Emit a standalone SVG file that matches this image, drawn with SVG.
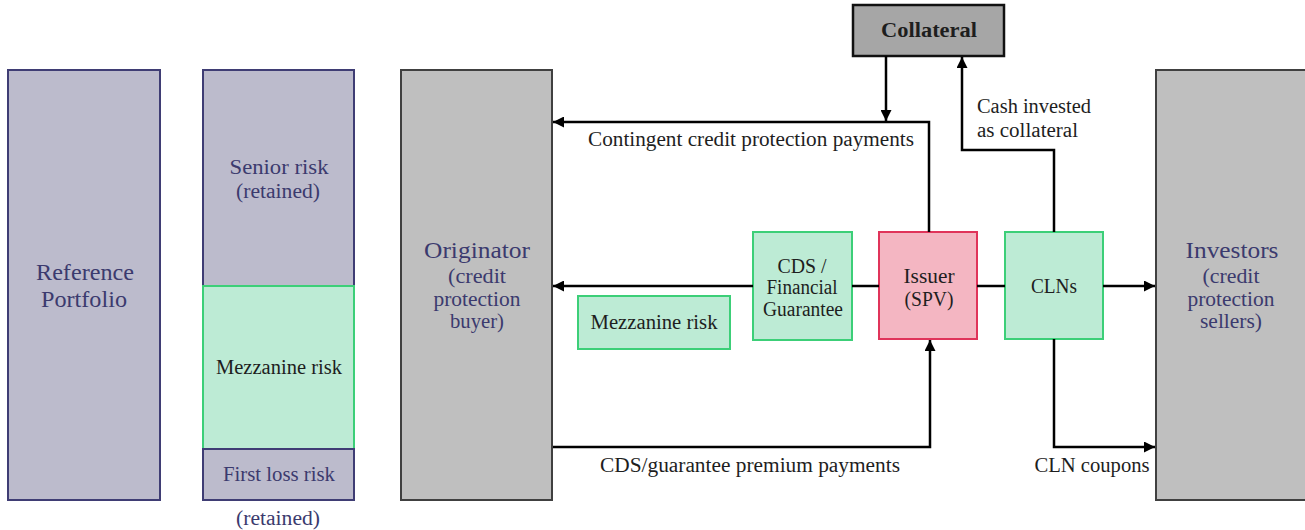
<svg xmlns="http://www.w3.org/2000/svg" width="1305" height="530" viewBox="0 0 1305 530">
<style>
text{font-family:"Liberation Serif","Times New Roman",serif;text-anchor:middle}
.navy{fill:#3b3a6e}
.blk{fill:#1e1e1e}
.tr{fill:#bcbbcc;stroke:#3f3d74;stroke-width:2}
.mz{fill:#bdebd5;stroke:#3ccf78;stroke-width:2}
.gr{fill:#bfbfbf;stroke:#404040;stroke-width:2}
.conn{fill:none;stroke:#000;stroke-width:2.5}
.t20{font-size:23.5px}
.t16{font-size:20px}
.t15{font-size:20px}
</style>
<defs>
<marker id="ah" viewBox="0 0 10 10" refX="10" refY="5" markerWidth="4.4" markerHeight="4.4" orient="auto" markerUnits="strokeWidth">
<path d="M0,0 L10,5 L0,10 z" fill="#000"/>
</marker>
</defs>
<g id="reference-portfolio">
<rect class="tr" x="8" y="70" width="152" height="430"/>
<text class="navy t20" x="85" y="280" textLength="98" lengthAdjust="spacingAndGlyphs">Reference</text>
<text class="navy t20" x="84" y="307" textLength="86" lengthAdjust="spacingAndGlyphs">Portfolio</text>
</g>
<g id="senior-risk">
<rect class="tr" x="203" y="70" width="151" height="216"/>
<text class="navy t16" x="279" y="174" textLength="99" lengthAdjust="spacingAndGlyphs">Senior risk</text>
<text class="navy t16" x="278" y="198" textLength="84" lengthAdjust="spacingAndGlyphs">(retained)</text>
</g>
<g id="mezzanine-tranche">
<rect class="mz" x="203" y="286" width="151" height="163"/>
<text class="blk t16" x="279" y="374" textLength="126" lengthAdjust="spacingAndGlyphs">Mezzanine risk</text>
</g>
<g id="first-loss">
<rect class="tr" x="203" y="449" width="151" height="51"/>
<text class="navy t16" x="279" y="481" textLength="112" lengthAdjust="spacingAndGlyphs">First loss risk</text>
<text class="navy t16" x="278" y="525" textLength="84" lengthAdjust="spacingAndGlyphs">(retained)</text>
</g>
<g id="originator">
<rect class="gr" x="401" y="70" width="151" height="430"/>
<text class="navy t20" x="477" y="258" textLength="106" lengthAdjust="spacingAndGlyphs">Originator</text>
<text class="navy t16" x="477" y="283" textLength="58" lengthAdjust="spacingAndGlyphs">(credit</text>
<text class="navy t16" x="477" y="306" textLength="87" lengthAdjust="spacingAndGlyphs">protection</text>
<text class="navy t16" x="477" y="328" textLength="54" lengthAdjust="spacingAndGlyphs">buyer)</text>
</g>
<g id="collateral">
<rect x="853" y="5" width="151" height="51" fill="#a6a6a6" stroke="#111" stroke-width="2.5"/>
<text class="blk" x="929" y="37" font-size="20" font-weight="bold" textLength="96" lengthAdjust="spacingAndGlyphs">Collateral</text>
</g>
<g id="mezzanine-risk">
<rect class="mz" x="578" y="296" width="152" height="53"/>
<text class="blk t16" x="654" y="329" textLength="127" lengthAdjust="spacingAndGlyphs">Mezzanine risk</text>
</g>
<g id="cds">
<rect class="mz" x="753" y="232" width="99" height="108"/>
<text class="blk t16" x="802" y="273" textLength="49" lengthAdjust="spacingAndGlyphs">CDS /</text>
<text class="blk t16" x="802" y="294" textLength="71" lengthAdjust="spacingAndGlyphs">Financial</text>
<text class="blk t16" x="803" y="316" textLength="80" lengthAdjust="spacingAndGlyphs">Guarantee</text>
</g>
<g id="issuer">
<rect x="879" y="232" width="98" height="107" fill="#f4b6c2" stroke="#e0345a" stroke-width="2"/>
<text class="blk t16" x="929" y="283" textLength="51" lengthAdjust="spacingAndGlyphs">Issuer</text>
<text class="blk t16" x="929" y="306" textLength="49" lengthAdjust="spacingAndGlyphs">(SPV)</text>
</g>
<g id="clns">
<rect class="mz" x="1005" y="232" width="98" height="107"/>
<text class="blk t16" x="1054" y="293" textLength="46" lengthAdjust="spacingAndGlyphs">CLNs</text>
</g>
<g id="investors">
<rect class="gr" x="1156" y="70" width="152" height="430"/>
<text class="navy t20" x="1232" y="258" textLength="93" lengthAdjust="spacingAndGlyphs">Investors</text>
<text class="navy t16" x="1231" y="283" textLength="57" lengthAdjust="spacingAndGlyphs">(credit</text>
<text class="navy t16" x="1231" y="306" textLength="87" lengthAdjust="spacingAndGlyphs">protection</text>
<text class="navy t16" x="1231" y="328" textLength="62" lengthAdjust="spacingAndGlyphs">sellers)</text>
</g>
<g id="connectors">
<path class="conn" d="M886,56 V121" marker-end="url(#ah)"/>
<path class="conn" d="M929,232 V122 H553" marker-end="url(#ah)"/>
<path class="conn" d="M1054,232 V150 H962 V57" marker-end="url(#ah)"/>
<path class="conn" d="M753,286 H553" marker-end="url(#ah)"/>
<path class="conn" d="M852,286 H879"/>
<path class="conn" d="M977,286 H1005"/>
<path class="conn" d="M1103,286 H1155" marker-end="url(#ah)"/>
<path class="conn" d="M553,447 H930 V340" marker-end="url(#ah)"/>
<path class="conn" d="M1054,339 V447 H1155" marker-end="url(#ah)"/>
<text class="blk t15" x="751" y="146" textLength="326" lengthAdjust="spacingAndGlyphs">Contingent  credit protection payments</text>
<text class="blk t15" x="750" y="472" textLength="300" lengthAdjust="spacingAndGlyphs">CDS/guarantee premium payments</text>
<text class="blk t15" x="1092" y="472" textLength="115" lengthAdjust="spacingAndGlyphs">CLN coupons</text>
<text class="blk t15" x="977" y="113" style="text-anchor:start" textLength="114" lengthAdjust="spacingAndGlyphs">Cash invested</text>
<text class="blk t15" x="977" y="137" style="text-anchor:start" textLength="101" lengthAdjust="spacingAndGlyphs">as collateral</text>
</g>
</svg>
